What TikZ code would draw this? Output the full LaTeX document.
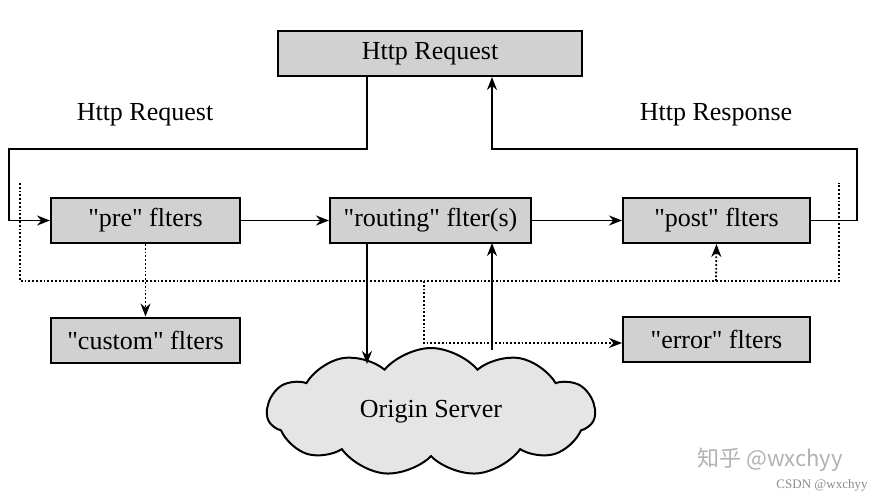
\documentclass[tikz,border=0pt]{standalone}
\usepackage{fontspec}
\setmainfont{Liberation Serif}
\newfontfamily\cjk{Noto Sans CJK SC}
\usetikzlibrary{shapes.symbols,arrows.meta}
\begin{document}
\begin{tikzpicture}[x=1pt,y=-1pt,
  box/.style={draw,line width=2pt,fill=black!18,minimum height=45pt,inner sep=0pt,font=\fontsize{26}{28}\selectfont},
  arr/.style={line width=1.8pt,-{Stealth[length=13pt,width=10pt]}},
  dot/.style={dotted,line width=1.8pt},
  lbl/.style={font=\fontsize{26}{28}\selectfont}]
\useasboundingbox (0,0) rectangle (880,500);
\fill[white] (0,0) rectangle (880,500);
\node[box,minimum width=304pt] (top) at (430,53.5) {Http Request};
\node[box,minimum width=189pt] (pre) at (145.5,220.5) {\textquotedbl pre\textquotedbl{} flters};
\node[box,minimum width=201pt] (rout) at (430.5,220.5) {\textquotedbl routing\textquotedbl{} flter(s)};
\node[box,minimum width=187pt] (post) at (716.5,220.5) {\textquotedbl post\textquotedbl{} flters};
\node[box,minimum width=189pt] (cust) at (145.5,340) {\textquotedbl custom\textquotedbl{} flters};
\node[box,minimum width=187pt] (err) at (716.5,339) {\textquotedbl error\textquotedbl{} flters};
\node[cloud,draw,line width=2pt,fill=black!10,cloud puffs=11,cloud puff arc=100,cloud ignores aspect,inner sep=0pt,minimum width=328pt,minimum height=128pt] (srv) at (431,412) {};
\node[lbl] (srvt) at (srv.center) {Origin Server};
\node[lbl] (l1) at (145,115) {Http Request};
\node[lbl] (l2) at (716,115) {Http Response};
\node[font=\cjk\fontsize{22}{24}\selectfont,text=black!30] (wm) at (770,460) {知乎 @wxchyy};
\node[font=\fontsize{13}{14}\selectfont,text=black!45] (cs) at (822,485) {CSDN @wxchyy};
\coordinate (a1) at (367,149); \coordinate (a2) at (9,149);
\draw[arr] (top.south -| a1) -- (a1) -- (a2) -- (a2 |- pre.west) -- (pre.west);
\coordinate (b1) at (857,149); \coordinate (b2) at (492,149);
\draw[arr] (post.east) -- (post.east -| b1) -- (b1) -- (b2) -- (top.south -| b2);
\draw[arr] (pre) -- (rout);
\draw[arr] (rout) -- (post);
\coordinate (r1) at (367,243); \coordinate (r2) at (367,364);
\draw[arr] (r1) -- (r2);
\coordinate (u1) at (492,350); \coordinate (u2) at (492,243);
\draw[arr] (u1) -- (u2);
\coordinate (d1) at (20,183); \coordinate (d2) at (20,281); \coordinate (d3) at (839,281); \coordinate (d4) at (839,183);
\draw[dot] (d1) -- (d2) -- (d3) -- (d4);
\draw[dot,-{Stealth[length=13pt,width=10pt]}] (pre.south) -- (cust.north);
\coordinate (p1) at (716,281);
\draw[dot,-{Stealth[length=13pt,width=10pt]}] (p1) -- (post.south);
\coordinate (e1) at (424,281); \coordinate (e2) at (424,343);
\draw[dot,-{Stealth[length=13pt,width=10pt]}] (e1) -- (e2) -- (e2 -| err.west);
\end{tikzpicture}
\end{document}
